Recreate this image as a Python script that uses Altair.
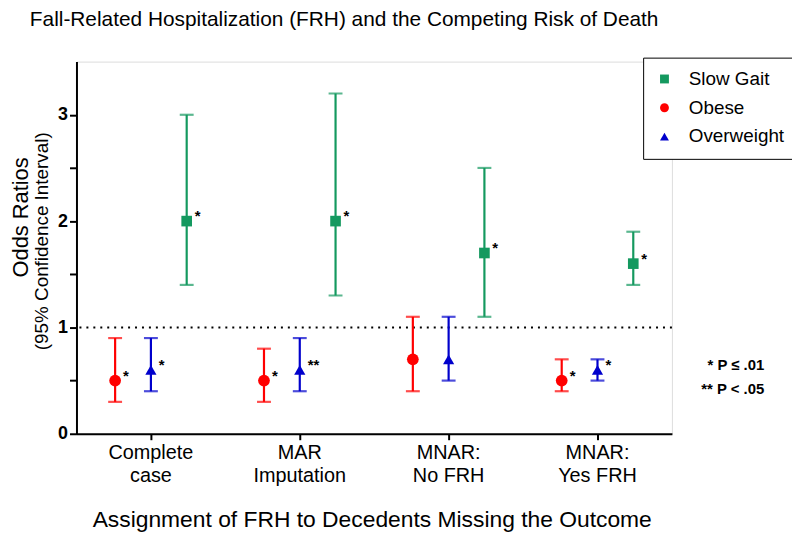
import altair as alt
import pandas as pd

# ---------------- data ----------------
categories = ["Complete case", "MAR Imputation", "MNAR: No FRH", "MNAR: Yes FRH"]
series_order = ["Slow Gait", "Obese", "Overweight"]          # legend order
series_colors = ["#14995f", "#ff0000", "#0000cc"]
series_shapes = ["square", "circle", "triangle-up"]
offset_order = ["Obese", "Overweight", "Slow Gait"]          # left-to-right order in each group
offset_colors = ["#ff0000", "#0000cc", "#14995f"]
offset_sizes = [140, 115, 75]

slow_or = [2.0, 2.0, 1.7, 1.6]
slow_lo = [1.4, 1.3, 1.1, 1.4]
slow_hi = [3.0, 3.2, 2.5, 1.9]
slow_sig = ["*", "*", "*", "*"]

obese_or = [0.5, 0.5, 0.7, 0.5]
obese_lo = [0.3, 0.3, 0.4, 0.4]
obese_hi = [0.9, 0.8, 1.1, 0.7]
obese_sig = ["*", "*", "", "*"]

over_or = [0.6, 0.6, 0.7, 0.6]
over_lo = [0.4, 0.4, 0.5, 0.5]
over_hi = [0.9, 0.9, 1.1, 0.7]
over_sig = ["*", "**", "", "*"]

ref_line = [1.0]
y_ticks = [0, 0.5, 1, 1.5, 2, 2.5, 3]

title_text = "Fall-Related Hospitalization (FRH) and the Competing Risk of Death"
x_title = "Assignment of FRH to Decedents Missing the Outcome"
y_title_1 = "Odds Ratios"
y_title_2 = "(95% Confidence Interval)"
note_1 = "* P \u2264 .01"
note_2 = "** P < .05"

rows = []
for name, ors, los, his, sigs in [
    ("Slow Gait", slow_or, slow_lo, slow_hi, slow_sig),
    ("Obese", obese_or, obese_lo, obese_hi, obese_sig),
    ("Overweight", over_or, over_lo, over_hi, over_sig),
]:
    for c, o, l, h, s in zip(categories, ors, los, his, sigs):
        rows.append({"group": c, "series": name, "OR": o, "lo": l, "hi": h, "sig": s})
df = pd.DataFrame(rows)

FONT = "Liberation Sans"

# ---------------- shared encodings ----------------
x_enc = alt.X(
    "group:N",
    sort=categories,
    scale=alt.Scale(domain=categories, paddingInner=0, paddingOuter=0),
    axis=alt.Axis(
        title=None,
        labelAngle=0,
        labelFont=FONT,
        labelFontSize=20,
        labelColor="black",
        labelLineHeight=23,
        labelPadding=3,
        labelLimit=0,
        tickSize=6,
        tickWidth=2,
        tickColor="black",
        domainColor="black",
        domainWidth=2,
        labelExpr="[substring(datum.label, 0, indexof(datum.label, ' ')), substring(datum.label, indexof(datum.label, ' ') + 1)]",
    ),
)
xoff_enc = alt.XOffset(
    "series:N",
    scale=alt.Scale(domain=offset_order, paddingInner=0, paddingOuter=0.58),
)

y_axis = alt.Axis(
    title=None,
    values=y_ticks,
    labelExpr="datum.value % 1 == 0 ? format(datum.value, 'd') : ''",
    labelFont=FONT,
    labelFontSize=18,
    labelFontWeight="bold",
    labelColor="black",
    labelPadding=2,
    tickSize=7,
    tickWidth=2,
    tickColor="black",
    domainColor="black",
    domainWidth=2,
    grid=False,
)
y_scale = alt.Scale(domain=[0, 3.5], nice=False, zero=True)

legend = alt.Legend(
    title=None,
    orient="none",
    legendX=571,
    legendY=-4,
    strokeColor="black",
    fillColor="white",
    padding=12,
    labelFont=FONT,
    labelFontSize=19,
    labelColor="black",
    labelOffset=15,
    rowPadding=9,
    symbolSize=80,
    symbolStrokeWidth=0,
)

mark_scale = alt.Scale(domain=offset_order, range=offset_colors)

base = alt.Chart(df)

ref = alt.Chart(pd.DataFrame({"ref": ref_line})).mark_rule(
    color="black", strokeWidth=2, strokeDash=[2, 5]
).encode(y=alt.Y("ref:Q", scale=y_scale, axis=y_axis))

bars = base.mark_rule(strokeWidth=2.2).encode(
    x=x_enc,
    xOffset=xoff_enc,
    y=alt.Y("lo:Q", scale=y_scale, axis=y_axis),
    y2="hi:Q",
    stroke=alt.Stroke("series:N", scale=mark_scale, legend=None),
)

caps_lo = base.mark_tick(size=14, thickness=2.2).encode(
    x=x_enc,
    xOffset=xoff_enc,
    y=alt.Y("lo:Q", scale=y_scale, axis=y_axis),
    fill=alt.Fill("series:N", scale=mark_scale, legend=None),
)
caps_hi = base.mark_tick(size=14, thickness=2.2).encode(
    x=x_enc,
    xOffset=xoff_enc,
    y=alt.Y("hi:Q", scale=y_scale, axis=y_axis),
    fill=alt.Fill("series:N", scale=mark_scale, legend=None),
)

points = base.mark_point(filled=True, opacity=1, strokeWidth=0).encode(
    x=x_enc,
    xOffset=xoff_enc,
    y=alt.Y("OR:Q", scale=y_scale, axis=y_axis),
    color=alt.Color("series:N", scale=alt.Scale(domain=series_order, range=series_colors), legend=legend),
    shape=alt.Shape("series:N", scale=alt.Scale(domain=series_order, range=series_shapes), legend=legend),
    size=alt.Size("series:N", scale=alt.Scale(domain=offset_order, range=offset_sizes), legend=None),
)

stars = base.mark_text(
    align="left", baseline="middle", dx=8, dy=-5, fontSize=15, fontWeight="bold", color="black", font=FONT
).encode(
    x=x_enc,
    xOffset=xoff_enc,
    y=alt.Y("OR:Q", scale=y_scale, axis=y_axis),
    text="sig:N",
)


def label(txt, x, y, size, weight="normal", align="left", angle=0, baseline="alphabetic"):
    return alt.Chart(pd.DataFrame({"t": [txt]})).mark_text(
        font=FONT, fontSize=size, fontWeight=weight, align=align, angle=angle,
        baseline=baseline, color="black"
    ).encode(text="t:N", x=alt.value(x), y=alt.value(y))


t_title = label(title_text, -47, -36, 21)
t_xtitle = label(x_title, 298, 469, 23, align="center")
t_y1 = label(y_title_1, -56, 157, 22, align="center", angle=270, baseline="middle")
t_y2 = label(y_title_2, -35, 181, 19, align="center", angle=270, baseline="middle")
t_n1 = label(note_1, 693, 311, 15, weight="bold", align="right")
t_n2 = label(note_2, 693, 335, 15, weight="bold", align="right")

chart = alt.layer(
    ref, bars, caps_lo, caps_hi, points, stars,
    t_title, t_xtitle, t_y1, t_y2, t_n1, t_n2,
).properties(
    width=600,
    height=375,
    autosize=alt.AutoSizeParams(type="none"),
    padding={"left": 69, "top": 52, "right": 121, "bottom": 100},
).configure_view(stroke=None).configure(background="white")

chart.save("out.html", embed_options={"renderer": "svg", "actions": False})
